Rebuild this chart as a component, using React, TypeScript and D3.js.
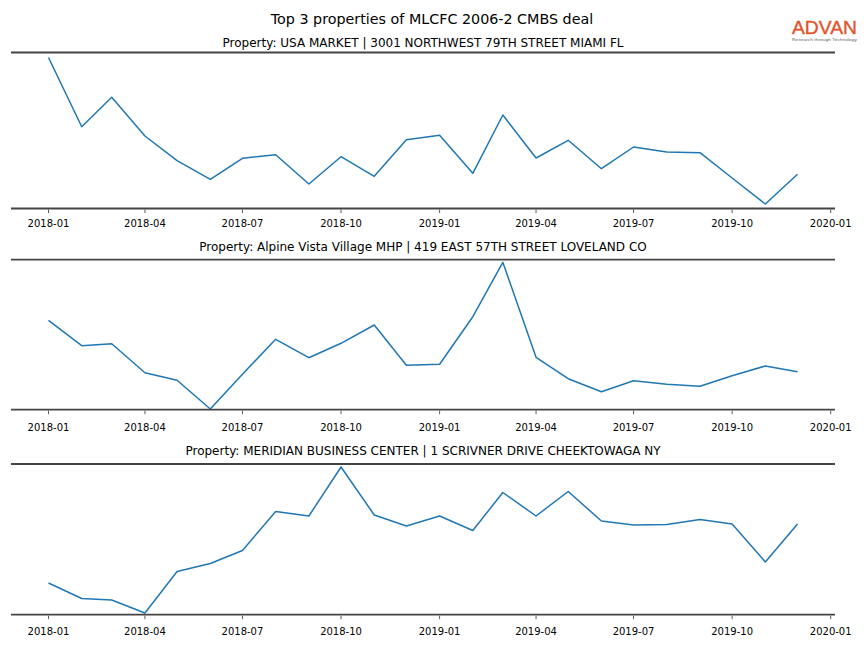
import React from "react";
import * as d3 from "d3";

const W = 864;
const H = 648;

const months: string[] = [
  "2018-01", "2018-02", "2018-03", "2018-04", "2018-05", "2018-06",
  "2018-07", "2018-08", "2018-09", "2018-10", "2018-11", "2018-12",
  "2019-01", "2019-02", "2019-03", "2019-04", "2019-05", "2019-06",
  "2019-07", "2019-08", "2019-09", "2019-10", "2019-11", "2019-12",
];

const figureTitle = "Top 3 properties of MLCFC 2006-2 CMBS deal";

const propertyTitles: string[] = [
  "Property: USA MARKET | 3001 NORTHWEST 79TH STREET MIAMI FL",
  "Property: Alpine Vista Village MHP | 419 EAST 57TH STREET LOVELAND CO",
  "Property: MERIDIAN BUSINESS CENTER | 1 SCRIVNER DRIVE CHEEKTOWAGA NY",
];

const usaMarket: number[] = [
  1510, 818, 1112, 725, 478, 292, 502, 538, 245, 518, 322, 688,
  732, 352, 935, 505, 682, 398, 615, 565, 558, 305, 45, 342,
];
const alpineVista: number[] = [
  894, 640, 660, 370, 294, 7, 355, 704, 520, 664, 847, 444,
  454, 930, 1474, 524, 310, 180, 290, 254, 234, 340, 437, 380,
];
const meridian: number[] = [
  317, 162, 147, 17, 432, 512, 642, 1032, 987, 1477, 997, 887,
  987, 842, 1222, 987, 1232, 937, 897, 902, 952, 907, 527, 907,
];

const seriesList: number[][] = [usaMarket, alpineVista, meridian];
const yMaxList: number[] = [1560, 1500, 1507];

const panelTops: number[] = [52.5, 259.7, 464];
const panelBottoms: number[] = [208.5, 409.7, 614.7];
const titleBaselines: number[] = [46.5, 250.5, 454.5];
const tickLabelBaselines: number[] = [226.5, 430.5, 634.5];
const plotLeft = 11;
const plotRight = 835;

const parseMonth = d3.utcParse("%Y-%m");
const dates = months.map((m) => parseMonth(m) as Date);
const DAY = 24 * 3600 * 1000;

const xScale = d3
  .scaleUtc()
  .domain([
    new Date(dates[0].getTime() - 35 * DAY),
    new Date(dates[dates.length - 1].getTime() + 35 * DAY),
  ])
  .range([plotLeft, plotRight]);

const ticks = xScale.ticks(d3.utcMonth.every(3) as any);
const fmt = d3.utcFormat("%Y-%m");

const FONT = "DejaVu Sans, Verdana, sans-serif";

function Panel({ i }: { i: number }) {
  const top = panelTops[i];
  const bottom = panelBottoms[i];
  const y = d3.scaleLinear().domain([0, yMaxList[i]]).range([bottom, top]);
  const line = d3
    .line<number>()
    .x((_, k) => xScale(dates[k]))
    .y((v) => y(v));
  const values = seriesList[i];
  return (
    <g>
      <text
        x={(plotLeft + plotRight) / 2}
        y={titleBaselines[i]}
        textAnchor="middle"
        fontFamily={FONT}
        fontSize={12}
        fill="#000"
      >
        {propertyTitles[i]}
      </text>
      <path
        d={line(values) || ""}
        fill="none"
        stroke="#1f77b4"
        strokeWidth={1.5}
        strokeLinejoin="round"
      />
      <line x1={plotLeft} x2={plotRight} y1={top} y2={top} stroke="#444" strokeWidth={1.8} />
      <line x1={plotLeft} x2={plotRight} y1={bottom} y2={bottom} stroke="#444" strokeWidth={1.8} />
      {ticks.map((t, k) => {
        const tx = xScale(t);
        return (
          <g key={k}>
            <line x1={tx} x2={tx} y1={bottom + 1} y2={bottom + 4.5} stroke="#333" strokeWidth={0.8} />
            <text
              x={tx}
              y={tickLabelBaselines[i]}
              textAnchor="middle"
              fontFamily={FONT}
              fontSize={10}
              fill="#000"
            >
              {fmt(t)}
            </text>
          </g>
        );
      })}
    </g>
  );
}

export default function App() {
  return (
    <svg
      width={W}
      height={H}
      viewBox={`0 0 ${W} ${H}`}
      style={{ position: "absolute", left: 0, top: 0, background: "#fff" }}
    >
      <rect x={0} y={0} width={W} height={H} fill="#fff" />
      <text x={W / 2} y={24} textAnchor="middle" fontFamily={FONT} fontSize={14.3} fill="#000">
        {figureTitle}
      </text>
      <g>
        <text
          x={792}
          y={34}
          fontFamily="Liberation Sans, Arial, sans-serif"
          fontSize={19}
          fill="#e2552a"
          stroke="#e2552a"
          strokeWidth={0.4}
          textLength={65}
          lengthAdjust="spacingAndGlyphs"
        >
          ADVAN
        </text>
        <text
          x={792}
          y={40.5}
          fontFamily="Liberation Sans, Arial, sans-serif"
          fontSize={4}
          fill="#666"
          textLength={65}
          lengthAdjust="spacingAndGlyphs"
        >
          Research through Technology
        </text>
      </g>
      {[0, 1, 2].map((i) => (
        <Panel key={i} i={i} />
      ))}
    </svg>
  );
}
